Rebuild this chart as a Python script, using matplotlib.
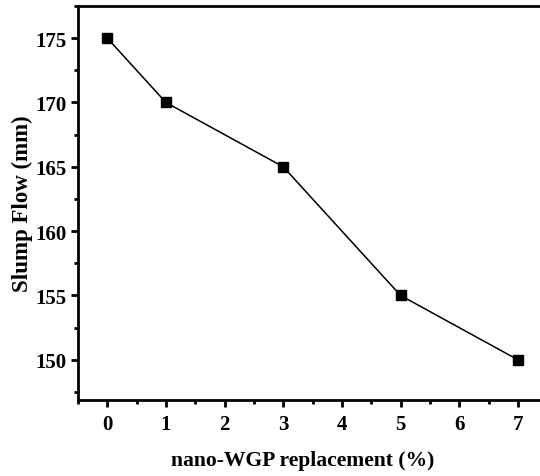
import matplotlib
matplotlib.use('Agg')
import matplotlib.pyplot as plt
from matplotlib.ticker import MultipleLocator

# slump flow vs nano-WGP replacement level
replacement = [0, 1, 3, 5, 7]
slump_flow = [175, 170, 165, 155, 150]

plt.rcParams['font.family'] = ['Liberation Serif', 'DejaVu Serif']
plt.rcParams['font.weight'] = 'bold'

fig = plt.figure(figsize=(5.4, 4.77), dpi=100)
ax = fig.add_axes([0.1444, 0.16, 0.869, 0.8253])

ax.plot(replacement, slump_flow, '-', color='black', linewidth=1.1,
        marker='s', markersize=6.5, markerfacecolor='black', markeredgecolor='black')

ax.set_xlim(-0.5, 7.5)
ax.set_ylim(146.9, 177.5)
ax.xaxis.set_major_locator(MultipleLocator(1))
ax.xaxis.set_minor_locator(MultipleLocator(0.5))
ax.yaxis.set_major_locator(MultipleLocator(5))
ax.yaxis.set_minor_locator(MultipleLocator(2.5))

ax.spines['right'].set_visible(False)
for s in ['left', 'bottom', 'top']:
    ax.spines[s].set_linewidth(2)

ax.tick_params(which='major', direction='out', length=5, width=2, labelsize=15)
ax.tick_params(axis='x', which='major', pad=5.5)
ax.tick_params(which='minor', direction='out', length=3, width=2)
for lbl in ax.get_xticklabels() + ax.get_yticklabels():
    lbl.set_fontweight('bold')

ax.set_xlabel('nano-WGP replacement (%)', fontsize=15.6, fontweight='bold')
ax.set_ylabel('Slump Flow (mm)', fontsize=16.5, fontweight='bold')
ax.xaxis.set_label_coords(0.478, -0.128)
ax.yaxis.set_label_coords(-0.095, 0.5)

fig.savefig('out.png', dpi=100)
